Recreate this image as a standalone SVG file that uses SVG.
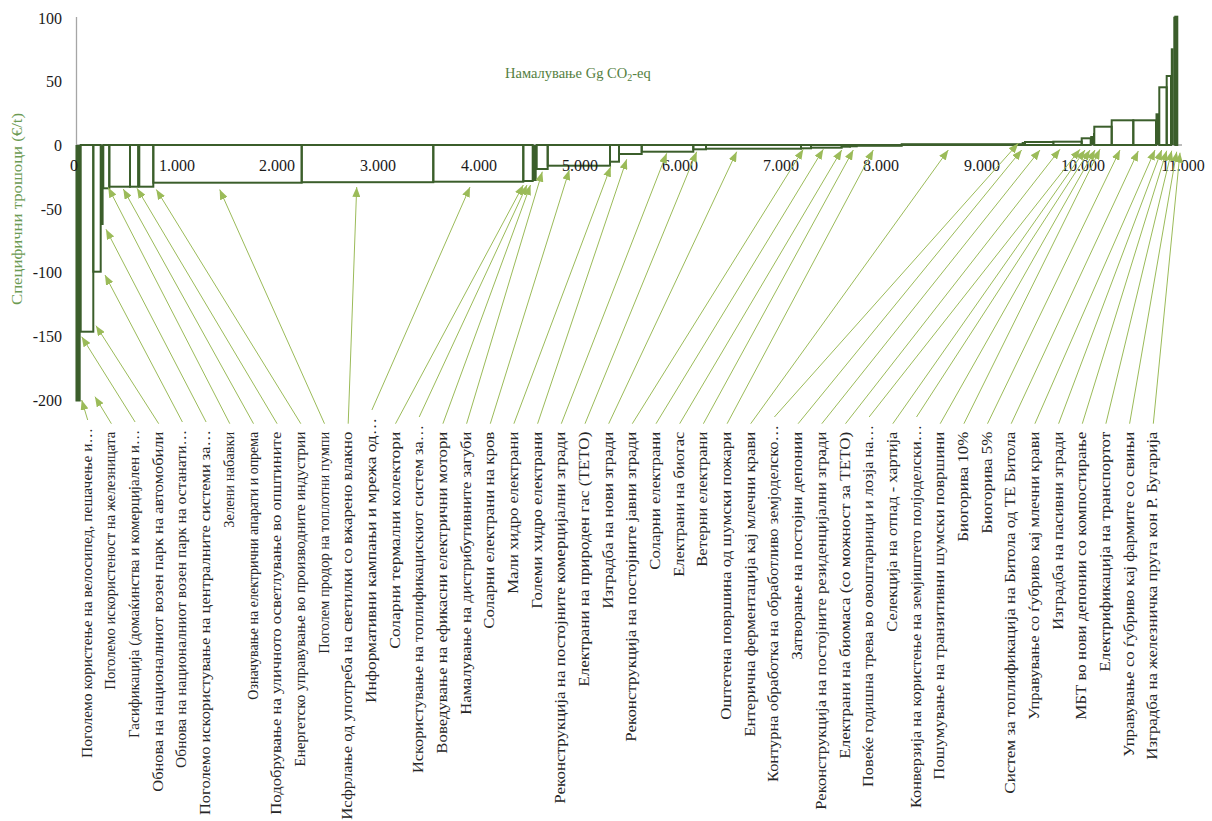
<svg xmlns="http://www.w3.org/2000/svg" width="1212" height="821" viewBox="0 0 1212 821">
  <style>
    .bar { fill: none; stroke: #3b5e2b; stroke-width: 2; }
    .solid { fill: #3b5e2b; stroke: none; }
    .axis { stroke: #a6a6a6; stroke-width: 1.3; fill: none; }
    .lead { stroke: #9bbb59; stroke-width: 1; fill: none; marker-end: url(#ah); }
    .tick { font-family: "Liberation Serif", serif; font-size: 16px; fill: #1a1a1a; }
    .lbl { font-family: "Liberation Serif", serif; font-size: 15px; fill: #262626; }
    .ttl { font-family: "Liberation Serif", serif; font-size: 14.5px; fill: #55803f; }
  </style>
  <defs>
    <marker id="ah" markerUnits="userSpaceOnUse" markerWidth="10" markerHeight="8" refX="10" refY="4" orient="auto">
      <path d="M0,0 L10,4 L0,8 z" fill="#9bbb59"/>
    </marker>
  </defs>
  <rect width="1212" height="821" fill="#ffffff"/>

  <!-- axes -->
  <g id="axes">
    <line class="axis" x1="76.5" y1="17" x2="76.5" y2="401"/>
    <line class="axis" x1="76" y1="145" x2="1182" y2="145"/>
  </g>

  <!-- value axis ticks -->
  <g id="y-ticks" class="tick" text-anchor="end">
    <text x="62" y="24">100</text>
    <text x="62" y="87">50</text>
    <text x="62" y="151">0</text>
    <text x="62" y="215">-50</text>
    <text x="62" y="278">-100</text>
    <text x="62" y="342">-150</text>
    <text x="62" y="406">-200</text>
  </g>

  <!-- axis titles -->
  <g id="titles">
    <text class="ttl" x="505" y="78">Намалување Gg CO<tspan font-size="10" dy="3">2</tspan><tspan dy="-3">-eq</tspan></text>
    <text transform="translate(22,209) rotate(-90)" text-anchor="middle" textLength="192" lengthAdjust="spacingAndGlyphs" style="font-family:'Liberation Serif',serif;font-size:15px;fill:#6b9a52">Специфични трошоци (€/t)</text>
  </g>

  <!-- abatement cost curve: one block per measure -->
  <g id="curve">
    <rect class="solid" x="75.5" y="145" width="5.2" height="256.5"/>
    <rect class="bar" x="80.7" y="145" width="12.6" height="186.7"/>
    <rect class="bar" x="93.3" y="145" width="7.4" height="126.7"/>
    <rect class="solid" x="100.2" y="145" width="3.4" height="80"/>
    <rect class="bar" x="103.3" y="145" width="6" height="43.3"/>
    <rect class="bar" x="109.3" y="145" width="20.7" height="41.7"/>
    <rect class="bar" x="130" y="145" width="8.3" height="41.7"/>
    <rect class="solid" x="137.3" y="145" width="2.5" height="41.7"/>
    <rect class="bar" x="139.3" y="145" width="14" height="41.7"/>
    <rect class="bar" x="153.3" y="145" width="148.4" height="37.7"/>
    <rect class="bar" x="301.7" y="145" width="131.6" height="37.2"/>
    <rect class="bar" x="433.3" y="145" width="90" height="36.7"/>
    <rect class="bar" x="523.3" y="145" width="9.4" height="36"/>
    <rect class="solid" x="532.2" y="145" width="4.5" height="36"/>
    <rect class="bar" x="536.7" y="145" width="11" height="24"/>
    <rect class="bar" x="547.7" y="145" width="62.3" height="20.7"/>
    <rect class="bar" x="610" y="145" width="9" height="16.7"/>
    <rect class="bar" x="619" y="145" width="22.7" height="9"/>
    <rect class="bar" x="641.7" y="145" width="51.6" height="6.7"/>
    <rect class="bar" x="693.3" y="145" width="12.7" height="4.3"/>
    <rect class="bar" x="706" y="145" width="95" height="3.7"/>
    <rect class="bar" x="801" y="145" width="10" height="3.3"/>
    <rect class="bar" x="811" y="145" width="30.7" height="2.7"/>
    <rect class="bar" x="841.7" y="145" width="8.3" height="1.7"/>
    <rect class="bar" x="850" y="145" width="6.7" height="1.3"/>
    <rect class="bar" x="856.7" y="145" width="45" height="0.8"/>
    <rect class="bar" x="901.7" y="144.2" width="121" height="0.8"/>
    <rect class="bar" x="1022.7" y="143" width="2.3" height="2"/>
    <rect class="bar" x="1025" y="142" width="28.3" height="3"/>
    <rect class="bar" x="1053.3" y="141.7" width="28.4" height="3.3"/>
    <rect class="bar" x="1081.7" y="138.3" width="9" height="6.7"/>
    <rect class="solid" x="1090.2" y="136" width="3" height="9"/>
    <rect class="solid" x="1093" y="133" width="1.8" height="12"/>
    <rect class="bar" x="1094.3" y="126.7" width="17.4" height="18.3"/>
    <rect class="bar" x="1111.7" y="120.3" width="21.6" height="24.7"/>
    <rect class="bar" x="1133.3" y="120.3" width="22.7" height="24.7"/>
    <rect class="solid" x="1155.5" y="113.3" width="3.5" height="31.7"/>
    <rect class="bar" x="1159.3" y="87.3" width="7.4" height="57.7"/>
    <rect class="bar" x="1166.7" y="76" width="4.3" height="69"/>
    <rect class="solid" x="1170.8" y="48.3" width="2.8" height="96.7"/>
    <rect class="solid" x="1173.3" y="16.7" width="2.5" height="128.3"/>
    <rect class="bar" x="1175.3" y="16.7" width="2" height="128.3"/>
  </g>

  <!-- cumulative reduction ticks, printed over the blocks -->
  <g id="x-ticks" class="tick" text-anchor="middle">
    <text x="74" y="171">0</text>
    <text x="177" y="171">1.000</text>
    <text x="277" y="171">2.000</text>
    <text x="378" y="171">3.000</text>
    <text x="479" y="171">4.000</text>
    <text x="580" y="171">5.000</text>
    <text x="680" y="171">6.000</text>
    <text x="781" y="171">7.000</text>
    <text x="881" y="171">8.000</text>
    <text x="982" y="171">9.000</text>
    <text x="1083" y="171">10.000</text>
    <text x="1183" y="171">11.000</text>
  </g>

  <!-- leader lines from measure names to their blocks -->
  <g id="connectors">
    <line class="lead" x1="87.7" y1="420" x2="81.7" y2="400"/>
    <line class="lead" x1="111.4" y1="423.7" x2="95" y2="396.7"/>
    <line class="lead" x1="135.1" y1="422" x2="81.7" y2="336.7"/>
    <line class="lead" x1="158.7" y1="423.7" x2="96" y2="325.7"/>
    <line class="lead" x1="182.4" y1="422" x2="105" y2="275"/>
    <line class="lead" x1="206.1" y1="422" x2="106" y2="229.3"/>
    <line class="lead" x1="229.8" y1="423.7" x2="108.3" y2="187.5"/>
    <line class="lead" x1="253.5" y1="423.7" x2="123.3" y2="189"/>
    <line class="lead" x1="277.1" y1="423.7" x2="137" y2="188.3"/>
    <line class="lead" x1="300.8" y1="423.7" x2="156.3" y2="189.5"/>
    <line class="lead" x1="324.5" y1="423.7" x2="219.7" y2="189.5"/>
    <line class="lead" x1="348.2" y1="423.7" x2="356.7" y2="187"/>
    <line class="lead" x1="371.9" y1="410" x2="470" y2="187"/>
    <line class="lead" x1="395.5" y1="423.7" x2="523.3" y2="185"/>
    <line class="lead" x1="419.2" y1="417" x2="527" y2="185"/>
    <line class="lead" x1="442.9" y1="423.7" x2="530.5" y2="185"/>
    <line class="lead" x1="466.6" y1="423.7" x2="542.3" y2="171.7"/>
    <line class="lead" x1="490.3" y1="423.7" x2="569.3" y2="170"/>
    <line class="lead" x1="513.9" y1="423.7" x2="610.7" y2="166.7"/>
    <line class="lead" x1="537.6" y1="423.7" x2="626.7" y2="159.3"/>
    <line class="lead" x1="561.3" y1="423.7" x2="666.7" y2="153.3"/>
    <line class="lead" x1="585" y1="423.7" x2="696.7" y2="151.7"/>
    <line class="lead" x1="608.7" y1="423.7" x2="736.7" y2="151.7"/>
    <line class="lead" x1="632.3" y1="423.7" x2="803.3" y2="149.3"/>
    <line class="lead" x1="656" y1="423.7" x2="823.3" y2="149.3"/>
    <line class="lead" x1="679.7" y1="423.7" x2="841.7" y2="150"/>
    <line class="lead" x1="703.4" y1="423.7" x2="853.3" y2="150"/>
    <line class="lead" x1="727.1" y1="423.7" x2="873.3" y2="150"/>
    <line class="lead" x1="750.7" y1="423.7" x2="948.3" y2="150"/>
    <line class="lead" x1="774.4" y1="417" x2="1018.3" y2="143.3"/>
    <line class="lead" x1="798.1" y1="423.7" x2="1021.7" y2="150"/>
    <line class="lead" x1="821.8" y1="423.7" x2="1040" y2="150"/>
    <line class="lead" x1="845.5" y1="423.7" x2="1060" y2="149.3"/>
    <line class="lead" x1="869.1" y1="417" x2="1080" y2="149.3"/>
    <line class="lead" x1="892.8" y1="423.7" x2="1085" y2="150"/>
    <line class="lead" x1="916.5" y1="417" x2="1090" y2="150"/>
    <line class="lead" x1="940.2" y1="423.7" x2="1095" y2="150"/>
    <line class="lead" x1="963.9" y1="423.7" x2="1100" y2="149.3"/>
    <line class="lead" x1="987.5" y1="423.7" x2="1120" y2="150"/>
    <line class="lead" x1="1011.2" y1="423.7" x2="1138.3" y2="151"/>
    <line class="lead" x1="1034.9" y1="423.7" x2="1155" y2="150"/>
    <line class="lead" x1="1058.6" y1="423.7" x2="1161.7" y2="150"/>
    <line class="lead" x1="1082.3" y1="423.7" x2="1166.7" y2="150.7"/>
    <line class="lead" x1="1105.9" y1="423.7" x2="1171.7" y2="150.7"/>
    <line class="lead" x1="1129.6" y1="423.7" x2="1176.7" y2="151.7"/>
    <line class="lead" x1="1153.3" y1="423.7" x2="1180" y2="152.7"/>
  </g>

  <!-- measure names, read bottom to top -->
  <g id="labels" class="lbl" text-anchor="end">
    <text id="m01" transform="translate(91.7,428) rotate(-90)" textLength="330" lengthAdjust="spacingAndGlyphs">Поголемо користење на велосипед, пешачење и…</text>
    <text id="m02" transform="translate(115.4,431.7) rotate(-90)" textLength="258" lengthAdjust="spacingAndGlyphs">Поголемо искористеност на железницата</text>
    <text id="m03" transform="translate(139.1,430) rotate(-90)" textLength="308" lengthAdjust="spacingAndGlyphs">Гасификација (домаќинства и комерцијален и…</text>
    <text id="m04" transform="translate(162.7,431.7) rotate(-90)" textLength="360" lengthAdjust="spacingAndGlyphs">Обнова на националниот возен парк на автомобили</text>
    <text id="m05" transform="translate(186.4,430) rotate(-90)" textLength="338" lengthAdjust="spacingAndGlyphs">Обнова на националниот возен парк на останати…</text>
    <text id="m06" transform="translate(210.1,430) rotate(-90)" textLength="385" lengthAdjust="spacingAndGlyphs">Поголемо искористување на централните системи за…</text>
    <text id="m07" transform="translate(233.8,431.7) rotate(-90)" textLength="96" lengthAdjust="spacingAndGlyphs">Зелени набавки</text>
    <text id="m08" transform="translate(257.5,431.7) rotate(-90)" textLength="268" lengthAdjust="spacingAndGlyphs">Означување на електрични апарати и опрема</text>
    <text id="m09" transform="translate(281.1,431.7) rotate(-90)" textLength="383" lengthAdjust="spacingAndGlyphs">Подобрување на уличното осветлување во општините</text>
    <text id="m10" transform="translate(304.8,431.7) rotate(-90)" textLength="335" lengthAdjust="spacingAndGlyphs">Енергетско управување во производните индустрии</text>
    <text id="m11" transform="translate(328.5,431.7) rotate(-90)" textLength="222" lengthAdjust="spacingAndGlyphs">Поголем продор на топлотни пумпи</text>
    <text id="m12" transform="translate(352.2,431.7) rotate(-90)" textLength="388" lengthAdjust="spacingAndGlyphs">Исфрлање од употреба на светилки со вжарено влакно</text>
    <text id="m13" transform="translate(375.9,418) rotate(-90)" textLength="285" lengthAdjust="spacingAndGlyphs">Информативни кампањи и мрежа од…</text>
    <text id="m14" transform="translate(399.5,431.7) rotate(-90)" textLength="217" lengthAdjust="spacingAndGlyphs">Соларни термални  колектори</text>
    <text id="m15" transform="translate(423.2,425) rotate(-90)" textLength="348" lengthAdjust="spacingAndGlyphs">Искористување на топлификацискиот систем за…</text>
    <text id="m16" transform="translate(446.9,431.7) rotate(-90)" textLength="322" lengthAdjust="spacingAndGlyphs">Воведување на ефикасни електрични мотори</text>
    <text id="m17" transform="translate(470.6,431.7) rotate(-90)" textLength="283" lengthAdjust="spacingAndGlyphs">Намалување на дистрибутивните загуби</text>
    <text id="m18" transform="translate(494.3,431.7) rotate(-90)" textLength="197" lengthAdjust="spacingAndGlyphs">Соларни електрани на кров</text>
    <text id="m19" transform="translate(517.9,431.7) rotate(-90)" textLength="162" lengthAdjust="spacingAndGlyphs">Мали  хидро електрани</text>
    <text id="m20" transform="translate(541.6,431.7) rotate(-90)" textLength="177" lengthAdjust="spacingAndGlyphs">Големи  хидро електрани</text>
    <text id="m21" transform="translate(565.3,431.7) rotate(-90)" textLength="372" lengthAdjust="spacingAndGlyphs">Реконструкција на постојните комерцијални згради</text>
    <text id="m22" transform="translate(589,431.7) rotate(-90)" textLength="255" lengthAdjust="spacingAndGlyphs">Електрани на природен гас (ТЕТО)</text>
    <text id="m23" transform="translate(612.7,431.7) rotate(-90)" textLength="177" lengthAdjust="spacingAndGlyphs">Изградба на нови згради</text>
    <text id="m24" transform="translate(636.3,431.7) rotate(-90)" textLength="310" lengthAdjust="spacingAndGlyphs">Реконструкција на постојните јавни згради</text>
    <text id="m25" transform="translate(660,431.7) rotate(-90)" textLength="138" lengthAdjust="spacingAndGlyphs">Соларни електрани</text>
    <text id="m26" transform="translate(683.7,431.7) rotate(-90)" textLength="145" lengthAdjust="spacingAndGlyphs">Електрани на биогас</text>
    <text id="m27" transform="translate(707.4,431.7) rotate(-90)" textLength="135" lengthAdjust="spacingAndGlyphs">Ветерни електрани</text>
    <text id="m28" transform="translate(731.1,431.7) rotate(-90)" textLength="288" lengthAdjust="spacingAndGlyphs">Оштетена површина од шумски пожари</text>
    <text id="m29" transform="translate(754.7,431.7) rotate(-90)" textLength="305" lengthAdjust="spacingAndGlyphs">Ентерична ферментација кај млечни крави</text>
    <text id="m30" transform="translate(778.4,425) rotate(-90)" textLength="357" lengthAdjust="spacingAndGlyphs">Контурна обработка на обработливо земјоделско…</text>
    <text id="m31" transform="translate(802.1,431.7) rotate(-90)" textLength="228" lengthAdjust="spacingAndGlyphs">Затворање на постојни депонии</text>
    <text id="m32" transform="translate(825.8,431.7) rotate(-90)" textLength="378" lengthAdjust="spacingAndGlyphs">Реконструкција на постојните резиденцијални згради</text>
    <text id="m33" transform="translate(849.5,431.7) rotate(-90)" textLength="327" lengthAdjust="spacingAndGlyphs">Електрани на биомаса (со можност за ТЕТО)</text>
    <text id="m34" transform="translate(873.1,425) rotate(-90)" textLength="362" lengthAdjust="spacingAndGlyphs">Повеќе годишна трева во овоштарници и лозја на…</text>
    <text id="m35" transform="translate(896.8,431.7) rotate(-90)" textLength="200" lengthAdjust="spacingAndGlyphs">Селекција на отпад - хартија</text>
    <text id="m36" transform="translate(920.5,425) rotate(-90)" textLength="383" lengthAdjust="spacingAndGlyphs">Конверзија на користење на земјиштето полјоделски…</text>
    <text id="m37" transform="translate(944.2,431.7) rotate(-90)" textLength="348" lengthAdjust="spacingAndGlyphs">Пошумување на транзитивни шумски површини</text>
    <text id="m38" transform="translate(967.9,431.7) rotate(-90)" textLength="110" lengthAdjust="spacingAndGlyphs">Биогорива 10%</text>
    <text id="m39" transform="translate(991.5,431.7) rotate(-90)" textLength="102" lengthAdjust="spacingAndGlyphs">Биогорива 5%</text>
    <text id="m40" transform="translate(1015.2,431.7) rotate(-90)" textLength="362" lengthAdjust="spacingAndGlyphs">Систем за топлификација на Битола од ТЕ Битола</text>
    <text id="m41" transform="translate(1038.9,431.7) rotate(-90)" textLength="288" lengthAdjust="spacingAndGlyphs">Управување со ѓубриво кај млечни крави</text>
    <text id="m42" transform="translate(1062.6,431.7) rotate(-90)" textLength="198" lengthAdjust="spacingAndGlyphs">Изградба на пасивни згради</text>
    <text id="m43" transform="translate(1086.3,431.7) rotate(-90)" textLength="288" lengthAdjust="spacingAndGlyphs">МБТ во нови депонии со компостирање</text>
    <text id="m44" transform="translate(1109.9,431.7) rotate(-90)" textLength="240" lengthAdjust="spacingAndGlyphs">Електрификација на транспортот</text>
    <text id="m45" transform="translate(1133.6,431.7) rotate(-90)" textLength="325" lengthAdjust="spacingAndGlyphs">Управување со ѓубриво кај фармите со свињи</text>
    <text id="m46" transform="translate(1157.3,431.7) rotate(-90)" textLength="328" lengthAdjust="spacingAndGlyphs">Изградба на железничка пруга кон Р. Бугарија</text>
  </g>
</svg>
